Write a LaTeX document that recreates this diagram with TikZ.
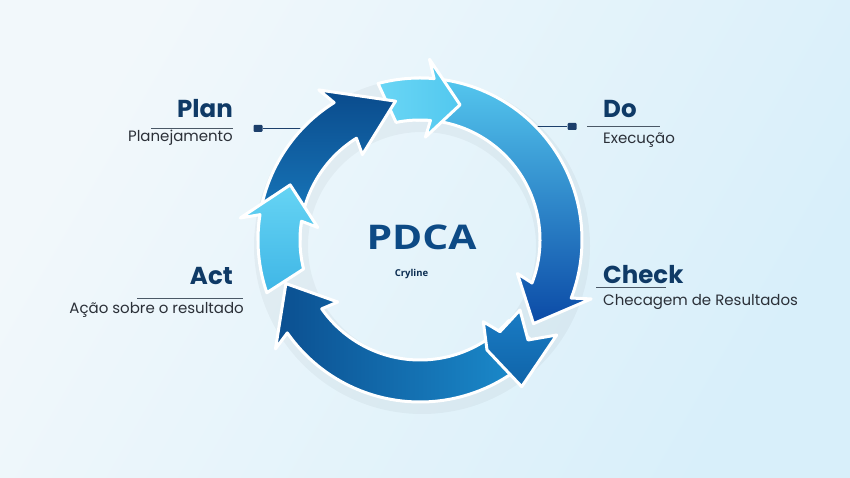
\documentclass[tikz,border=0pt]{standalone}
\usepackage{fontspec}
\usepackage{graphicx}
\setmainfont{Poppins}
\newfontfamily\popfont{Poppins}
\newfontfamily\opfont{Open Sans}
\definecolor{bgA}{HTML}{F2F8FB}
\definecolor{bgB}{HTML}{D8EFFA}
\definecolor{navy}{HTML}{0F3A66}
\definecolor{pdcac}{HTML}{0D4A85}
\definecolor{subc}{HTML}{2B3038}
\definecolor{rulec}{HTML}{4A5866}
\definecolor{sqc}{HTML}{1C3F6B}
\definecolor{cA}{HTML}{0B4F90}
\definecolor{cB}{HTML}{1C8FD0}
\definecolor{cC}{HTML}{1A7CC4}
\definecolor{cD}{HTML}{0F63A8}
\definecolor{cE}{HTML}{55C8EF}
\definecolor{cF}{HTML}{0B4AA6}
\definecolor{cG}{HTML}{6AD6F5}
\definecolor{cH}{HTML}{52C8EF}
\definecolor{cI}{HTML}{0A4B8C}
\definecolor{cJ}{HTML}{1A7EC2}
\definecolor{cK}{HTML}{66D4F4}
\definecolor{cL}{HTML}{3FB6E6}
\tikzset{
  arrowbox/.style={draw=white, line width=3pt, line join=round},
  title/.style={font=\popfont\bfseries\fontsize{24.5}{28}\selectfont, text=navy, inner sep=0pt},
  subtitle/.style={font=\popfont\fontsize{15}{18}\selectfont, text=subc, inner sep=0pt},
  underline/.style={draw=rulec, line width=0.9pt},
  conn/.style={draw=sqc, line width=1pt},
  sqbox/.style={fill=sqc, minimum width=9pt, minimum height=7pt, inner sep=0pt, rounded corners=1pt},
}
\newcommand{\ringarrow}[5]{%
  \path[arrowbox,#5] (#1:162pt) arc[start angle=#1, end angle=#3, radius=162pt]
    -- (#3+2:181pt) -- (#4:141pt) -- (#3+2:103pt) -- (#3:120pt)
    arc[start angle=#3, end angle=#2, radius=120pt] -- cycle;}
\begin{document}
\begin{tikzpicture}[x=1pt,y=1pt]
\shade[left color=bgA, right color=bgB, shading angle=60] (0,0) rectangle (850,478);
\useasboundingbox (0,0) rectangle (850,478);

% connectors (under the ring)
\node[sqbox] (plansq) at (258,349.5) {};
\coordinate (planend) at (335,349.5);
\draw[conn] (plansq) -- (planend);
\node[sqbox] (dosq) at (572,351.5) {};
\coordinate (doend) at (505,351.5);
\draw[conn] (doend) -- (dosq);

\begin{scope}[shift={(420,238)}]
  % soft shadow under the ring
  \fill[black, opacity=0.035, even odd rule] (2,-6) circle[radius=168pt] (2,-6) circle[radius=114pt];
  % bottom arc (Check -> Act)
  \ringarrow{-42}{-42}{-145}{-162}{left color=cA, right color=cB}
  % star head
  \path[arrowbox, top color=cC, bottom color=cD]
    (63.3,-81.7) -- (80,-91.7) -- (100,-70) -- (108,-100) -- (136.7,-95)
    -- (101.7,-146.7) -- (67,-110) -- cycle;
  % right arc (Do -> Check)
  \ringarrow{92}{92}{-21}{-36.4}{top color=cE, bottom color=cF}
  % light piece at top
  \ringarrow{105}{101.5}{85}{73.5}{left color=cG, right color=cH}
  % Plan arc
  \ringarrow{180}{180}{122}{100}{top color=cI, bottom color=cJ}
  % Act light piece
  \ringarrow{199}{194}{171}{157}{top color=cK, bottom color=cL}
\end{scope}

% center text
\node[font=\opfont\bfseries\fontsize{34}{40}\selectfont, text=pdcac, anchor=base, inner sep=0pt] (pdca) at (421.5,228.7) {\scalebox{1.2}[1]{PDCA}};
\node[font=\opfont\bfseries\fontsize{9.5}{11}\selectfont, text=navy!80!black, anchor=base, inner sep=0pt] (cry) at (411.5,201.3) {Cryline};

% Plan
\node[title, anchor=base east] (plan) at (233,360) {Plan};
\draw[underline] (151,349.7) -- (233,349.7);
\node[subtitle, anchor=base east] (plansub) at (233,336.5) {Planejamento};
% Do
\node[title, anchor=base west] (do) at (603,360.7) {Do};
\draw[underline] (587,351.3) -- (660,351.3);
\node[subtitle, anchor=base west] (dosub) at (603,334.7) {Execução};
% Act
\node[title, anchor=base east] (act) at (233,193) {Act};
\draw[underline] (137,179.7) -- (243.3,179.7);
\node[subtitle, anchor=base east] (actsub) at (244,164) {Ação sobre o resultado};
% Check
\node[title, anchor=base west] (check) at (603,194.7) {Check};
\draw[underline] (596,190.7) -- (666,190.7);
\node[subtitle, anchor=base west] (checksub) at (603,172) {Checagem de Resultados};
\end{tikzpicture}
\end{document}
